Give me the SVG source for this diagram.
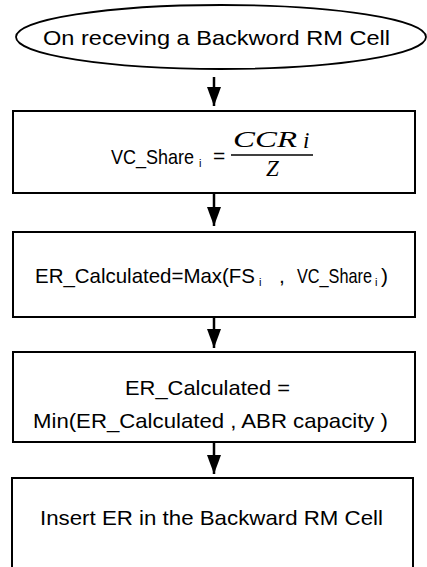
<svg xmlns="http://www.w3.org/2000/svg" width="427" height="567" viewBox="0 0 427 567">
<style>
.box{fill:#fff;stroke:#000;stroke-width:2}
.t{font-family:"Liberation Sans",Arial,sans-serif;font-size:21px;fill:#000}
.s{font-family:"Liberation Sans",Arial,sans-serif;font-size:11px;fill:#000}
.m{font-family:"Liberation Serif","Times New Roman",serif;font-style:italic;font-size:23px;fill:#000}
.c{stroke:#000;stroke-width:2.5;fill:none}
</style>
<defs>
<marker id="ah" viewBox="0 0 19 14" refX="19" refY="7" markerWidth="19" markerHeight="14" markerUnits="userSpaceOnUse" orient="auto">
<path d="M0,0 L19,7 L0,14 Z" fill="#000"/>
</marker>
</defs>
<rect width="427" height="567" fill="#fff"/>
<g id="connectors">
<line class="c" x1="214" y1="77" x2="214" y2="106" marker-end="url(#ah)"/>
<line class="c" x1="214" y1="194" x2="214" y2="226" marker-end="url(#ah)"/>
<line class="c" x1="214" y1="318" x2="214" y2="348" marker-end="url(#ah)"/>
<line class="c" x1="214" y1="443" x2="214" y2="474" marker-end="url(#ah)"/>
</g>
<g id="start">
<ellipse cx="221" cy="37" rx="205" ry="32" fill="#fff" stroke="#000" stroke-width="1.8"/>
<text class="t" x="43" y="45" font-size="22" textLength="347" lengthAdjust="spacingAndGlyphs">On receving a Backword RM Cell</text>
</g>
<g id="vcshare">
<rect class="box" x="13" y="111" width="402" height="82"/>
<text class="t" x="111" y="164" font-size="19" textLength="83" lengthAdjust="spacingAndGlyphs">VC_Share</text>
<text class="s" x="199" y="167">i</text>
<text class="t" x="213" y="163">=</text>
<line x1="231" y1="155" x2="313" y2="155" stroke="#000" stroke-width="1.5"/>
<text class="m" x="233" y="147" textLength="64" lengthAdjust="spacingAndGlyphs">CCR</text>
<text class="m" x="303" y="148" font-size="15">i</text>
<text class="m" x="266" y="176" font-size="25">Z</text>
</g>
<g id="max">
<rect class="box" x="13" y="232" width="402" height="85"/>
<text class="t" x="35" y="283" textLength="220" lengthAdjust="spacingAndGlyphs">ER_Calculated=Max(FS</text>
<text class="s" x="259" y="286">i</text>
<text class="t" x="279" y="283">,</text>
<text class="t" x="297" y="283" font-size="19" textLength="75" lengthAdjust="spacingAndGlyphs">VC_Share</text>
<text class="s" x="375" y="286">i</text>
<text class="t" x="381" y="283">)</text>
</g>
<g id="min">
<rect class="box" x="13" y="352" width="402" height="90"/>
<text class="t" x="125" y="395" textLength="165" lengthAdjust="spacingAndGlyphs">ER_Calculated =</text>
<text class="t" x="33" y="428" textLength="355" lengthAdjust="spacingAndGlyphs">Min(ER_Calculated , ABR capacity )</text>
</g>
<g id="insert">
<rect class="box" x="12" y="478" width="401" height="100"/>
<text class="t" x="40" y="525" textLength="343" lengthAdjust="spacingAndGlyphs">Insert ER in the Backward RM Cell</text>
</g>
</svg>
